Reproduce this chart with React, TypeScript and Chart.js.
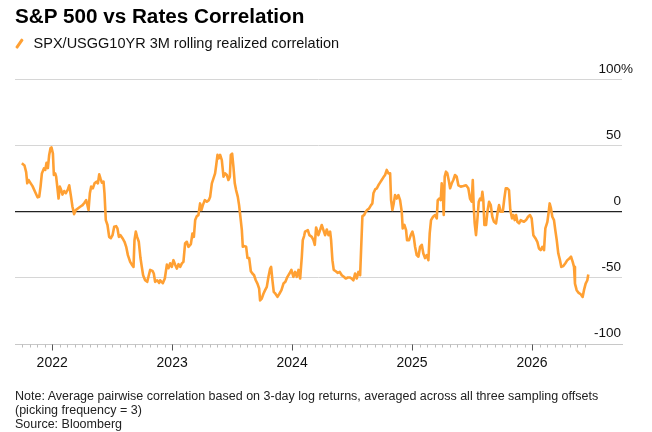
import { useEffect, useRef } from 'react';
import { Chart, registerables } from 'chart.js';

Chart.register(...registerables);

const title = 'S&P 500 vs Rates Correlation';
const seriesLabel = 'SPX/USGG10YR 3M rolling realized correlation';
const noteLines = [
  'Note: Average pairwise correlation based on 3-day log returns, averaged across all three sampling offsets',
  '(picking frequency = 3)',
  'Source: Bloomberg',
];

// decimal-year dates
const dates = [
  2021.747, 2021.769, 2021.783, 2021.792, 2021.803, 2021.817, 2021.836, 2021.858, 2021.878, 2021.892,
  2021.903, 2021.914, 2021.931, 2021.942, 2021.953, 2021.964, 2021.975, 2021.986, 2021.994, 2022.006,
  2022.014, 2022.025, 2022.033, 2022.044, 2022.053, 2022.064, 2022.075, 2022.086, 2022.100, 2022.114,
  2022.131, 2022.142, 2022.156, 2022.169, 2022.183, 2022.197, 2022.214, 2022.233, 2022.253, 2022.269,
  2022.283, 2022.294, 2022.303, 2022.314, 2022.325, 2022.339, 2022.353, 2022.369, 2022.381, 2022.392,
  2022.403, 2022.414, 2022.428, 2022.436, 2022.447, 2022.461, 2022.475, 2022.489, 2022.503, 2022.517,
  2022.533, 2022.544, 2022.556, 2022.569, 2022.586, 2022.603, 2022.617, 2022.631, 2022.650, 2022.664,
  2022.678, 2022.686, 2022.697, 2022.708, 2022.722, 2022.736, 2022.747, 2022.758, 2022.775, 2022.792,
  2022.803, 2022.817, 2022.836, 2022.847, 2022.858, 2022.875, 2022.892, 2022.900, 2022.922, 2022.939,
  2022.956, 2022.969, 2022.983, 2022.997, 2023.011, 2023.025, 2023.039, 2023.053, 2023.067, 2023.081,
  2023.094, 2023.108, 2023.122, 2023.136, 2023.156, 2023.169, 2023.181, 2023.192, 2023.206, 2023.219,
  2023.233, 2023.244, 2023.256, 2023.272, 2023.289, 2023.306, 2023.317, 2023.331, 2023.344, 2023.358,
  2023.367, 2023.378, 2023.389, 2023.400, 2023.414, 2023.428, 2023.442, 2023.456, 2023.469, 2023.481,
  2023.489, 2023.500, 2023.511, 2023.522, 2023.533, 2023.547, 2023.558, 2023.569, 2023.581, 2023.589,
  2023.603, 2023.617, 2023.628, 2023.642, 2023.656, 2023.669, 2023.683, 2023.697, 2023.711, 2023.725,
  2023.733, 2023.747, 2023.761, 2023.775, 2023.789, 2023.803, 2023.817, 2023.825, 2023.836, 2023.847,
  2023.861, 2023.878, 2023.894, 2023.911, 2023.928, 2023.944, 2023.961, 2023.978, 2023.994, 2024.011,
  2024.025, 2024.039, 2024.053, 2024.067, 2024.081, 2024.089, 2024.100, 2024.108, 2024.131, 2024.144,
  2024.164, 2024.178, 2024.189, 2024.200, 2024.211, 2024.219, 2024.233, 2024.247, 2024.261, 2024.275,
  2024.289, 2024.303, 2024.317, 2024.325, 2024.336, 2024.347, 2024.364, 2024.381, 2024.397, 2024.414,
  2024.431, 2024.447, 2024.464, 2024.481, 2024.497, 2024.511, 2024.525, 2024.539, 2024.553, 2024.567,
  2024.575, 2024.586, 2024.600, 2024.614, 2024.625, 2024.642, 2024.658, 2024.669, 2024.678, 2024.692,
  2024.706, 2024.719, 2024.733, 2024.747, 2024.761, 2024.775, 2024.789, 2024.803, 2024.817, 2024.825,
  2024.836, 2024.847, 2024.858, 2024.872, 2024.886, 2024.900, 2024.914, 2024.922, 2024.936, 2024.950,
  2024.958, 2024.975, 2024.989, 2025.003, 2025.014, 2025.025, 2025.039, 2025.053, 2025.067, 2025.081,
  2025.094, 2025.108, 2025.122, 2025.136, 2025.147, 2025.158, 2025.175, 2025.192, 2025.206, 2025.214,
  2025.228, 2025.239, 2025.247, 2025.256, 2025.264, 2025.272, 2025.283, 2025.294, 2025.308, 2025.317,
  2025.331, 2025.344, 2025.358, 2025.372, 2025.386, 2025.406, 2025.428, 2025.450, 2025.469, 2025.483,
  2025.497, 2025.506, 2025.514, 2025.522, 2025.533, 2025.544, 2025.556, 2025.567, 2025.578, 2025.586,
  2025.594, 2025.603, 2025.617, 2025.628, 2025.642, 2025.656, 2025.669, 2025.683, 2025.700, 2025.714,
  2025.725, 2025.739, 2025.756, 2025.769, 2025.781, 2025.794, 2025.808, 2025.819, 2025.833, 2025.844,
  2025.856, 2025.867, 2025.878, 2025.892, 2025.906, 2025.919, 2025.933, 2025.950, 2025.967, 2025.983,
  2025.997, 2026.011, 2026.028, 2026.044, 2026.058, 2026.072, 2026.086, 2026.100, 2026.111, 2026.128,
  2026.139, 2026.147, 2026.158, 2026.169, 2026.183, 2026.194, 2026.206, 2026.219, 2026.233, 2026.244,
  2026.261, 2026.278, 2026.294, 2026.311, 2026.325, 2026.339, 2026.350, 2026.358, 2026.372, 2026.389,
  2026.406, 2026.422, 2026.433, 2026.447, 2026.461, 2026.469,
];

// correlation, %
const correlation = [
  36.6, 35, 30, 21.5, 24, 22, 19.4, 15, 10.9, 11.4,
  19, 29, 32.8, 31.6, 37, 33, 43, 48, 48.7, 44,
  27.8, 29, 26.5, 17.7, 10, 19, 16.4, 13, 15.7, 14,
  17, 20, 12, 3.8, -1.8, 1.3, 2.5, 3.8, 5, 6.8,
  8.8, 5, 1.3, 14, 19, 17.7, 21.5, 22.7, 21.5, 28.3,
  25, 22, 22.7, 14, -6.3, -10, -19, -20, -17.7, -11.4,
  -10.9, -12.6, -19, -17.7, -20, -22.7, -26.5, -32.8, -37.9, -40,
  -41.7, -21.5, -15, -19, -22.7, -35, -41.7, -48, -51.8, -53,
  -49, -44, -44.7, -46.7, -53, -51.8, -53.8, -51.8, -54, -50.5,
  -40, -42.7, -39, -41.7, -36.6, -40, -43, -39.6, -41.7, -39,
  -37.9, -24, -22.7, -26.5, -24.5, -16.4, -19, -6.3, -3.3, -2.5,
  6.3, 1.3, 5, 8.8, 7.6, 8.8, 11.4, 21.5, 25, 29,
  35, 43, 40.4, 43, 39, 26.5, 29, 27.8, 24, 26.5,
  43, 44, 34, 21.5, 16.4, 11.4, 5, -3.8, -13.9, -26.5,
  -26, -26.5, -35, -35, -45, -46.7, -48, -51.8, -54.3, -58,
  -67, -65.6, -62, -59.3, -56.8, -49.2, -43, -41.7, -51.8, -60.6,
  -62, -64.4, -62, -59.3, -54.3, -53, -49.2, -46.7, -44, -49.2,
  -45.5, -49.2, -44, -50.5, -34, -21.5, -18.4, -15, -13.9, -17.7,
  -19, -21.5, -25, -11.9, -15, -17.7, -13.9, -10, -13.9, -17.7,
  -13.4, -17.7, -15, -21.5, -36.6, -44, -45, -46.2, -45.5, -48,
  -49.2, -50.5, -49.7, -49.7, -50.5, -51.8, -46.7, -50.5, -45.5, -48,
  -29, -3.3, -2.5, 0, 1.3, 2.5, 5, 6.3, 13.9, 16.9,
  17.7, 20, 22, 24, 26, 27.8, 31.6, 29, 29, 8.8,
  1.3, 6.3, 12.6, 10, 12.6, 8.8, 0, -12.6, -10, -13.9,
  -21.5, -21.5, -17.7, -15, -19, -26.5, -32.8, -34, -26.5, -25,
  -31.6, -35, -32.8, -36.6, -16.4, -6.3, -3.8, -2.5, -5, 8.8,
  10, 8.8, 21.5, 13.9, -2.5, 26.5, 30.3, 29, 22.7, 17.7,
  21.5, 24, 27.8, 26.5, 20, 19, 19.4, 20, 17.7, 10,
  7.6, 24, 3.8, -8.8, -17.7, -6.3, 7.6, 10, 8.8, 15,
  8.8, -10, -10, 0, 7.6, 5, -3.8, -7.6, -8.8, 0,
  5, 0, 0, 10, 17.7, 17.7, 16.4, 1.3, -5, -2.5,
  -6.3, -2.5, -7.6, -8.8, -6.3, -7, -7.6, -6.3, -3.8, -2.5,
  -5, -17.7, -20, -22.7, -27.8, -29, -26.5, -29, -12.6, -7.6,
  0, 6.3, 2.5, -3.8, -6.3, -13.9, -21.5, -31.6, -36.6, -41.7,
  -41, -38.9, -36.6, -35.4, -34, -37.9, -41.7, -54.3, -59.3, -61.4,
  -62.4, -64.4, -59.3, -54.3, -51.8, -47.5,
];

const yTickValues = [-100, -50, 0, 50, 100];
const yearLabels = [2022, 2023, 2024, 2025, 2026];
const xMin = 2021.69;
const xMax = 2026.75;
const minorTicksPerYear = 16;

const ORANGE = '#FFA033';
const FONT = '"Liberation Sans", Arial, Helvetica, sans-serif';

const axisDecorPlugin = {
  id: 'axisDecor',
  afterDraw(chart: any) {
    const { ctx, chartArea } = chart;
    const xs = chart.scales.x;
    const ys = chart.scales.y;
    ctx.save();
    // x tick marks
    const lastDate = dates[dates.length - 1];
    const y0 = Math.round(chartArea.bottom) + 0.5;
    for (let yr = Math.floor(xMin); yr <= Math.ceil(xMax); yr++) {
      for (let k = 0; k < minorTicksPerYear; k++) {
        const t = yr + k / minorTicksPerYear;
        if (t < xMin || t > lastDate) continue;
        const px = Math.round(xs.getPixelForValue(t)) + 0.5;
        const major = k === 0 && yearLabels.includes(yr);
        ctx.strokeStyle = major ? '#555' : '#bdbdbd';
        ctx.lineWidth = 1;
        ctx.beginPath();
        ctx.moveTo(px, y0);
        ctx.lineTo(px, y0 + (major ? 6 : 3));
        ctx.stroke();
      }
    }
    // y labels, right-aligned above gridlines
    ctx.font = `13.5px ${FONT}`;
    ctx.fillStyle = '#111';
    ctx.textBaseline = 'middle';
    const rx = chartArea.right - 1;
    yTickValues.forEach((v) => {
      const py = ys.getPixelForValue(v) - 10.5;
      ctx.textAlign = 'right';
      ctx.fillText(String(v), rx, py);
      if (v === 100) {
        ctx.textAlign = 'left';
        ctx.fillText('%', rx, py);
      }
    });
    ctx.restore();
  },
};

export default function App() {
  const canvasRef = useRef<HTMLCanvasElement | null>(null);

  useEffect(() => {
    if (!canvasRef.current) return;
    const chart = new Chart(canvasRef.current, {
      type: 'line',
      data: {
        datasets: [
          {
            label: seriesLabel,
            data: dates.map((d, i) => ({ x: d, y: correlation[i] })),
            borderColor: ORANGE,
            borderWidth: 2.6,
            pointRadius: 0,
            tension: 0,
            fill: false,
            borderJoinStyle: 'round',
          },
        ],
      },
      options: {
        animation: false,
        responsive: false,
        maintainAspectRatio: false,
        layout: { padding: { left: 15, right: 30, top: 79.5, bottom: 58 } },
        plugins: {
          legend: { display: false },
          title: { display: false },
          tooltip: { enabled: false },
        },
        scales: {
          x: {
            type: 'linear',
            min: xMin,
            max: xMax,
            grid: { display: false, drawTicks: false },
            border: { display: true, color: '#c8c8c8', width: 1 },
            ticks: {
              stepSize: 1,
              includeBounds: false,
              autoSkip: false,
              maxRotation: 0,
              padding: 11,
              color: '#111',
              font: { family: FONT, size: 14 },
              callback: (v: any) => (yearLabels.includes(Number(v)) ? String(v) : ''),
            },
            afterFit: (s: any) => {
              s.height = 30;
            },
          },
          y: {
            position: 'right',
            min: -100,
            max: 100,
            ticks: { stepSize: 50, display: false },
            grid: {
              drawTicks: false,
              color: (c: any) => (c.tick && c.tick.value === 0 ? '#222' : '#d6d6d6'),
              lineWidth: (c: any) => (c.tick && c.tick.value === 0 ? 1.2 : 1),
            },
            border: { display: false },
            afterFit: (s: any) => {
              s.width = 0;
            },
          },
        },
      },
      plugins: [axisDecorPlugin],
    } as any);
    return () => chart.destroy();
  }, []);

  return (
    <div
      style={{
        position: 'fixed',
        left: 0,
        top: 0,
        width: 652,
        height: 432,
        background: '#fff',
        fontFamily: FONT,
        color: '#111',
        overflow: 'hidden',
      }}
    >
      <canvas
        ref={canvasRef}
        width={652}
        height={432}
        style={{ position: 'absolute', left: 0, top: 0, width: 652, height: 432 }}
      />
      <div
        style={{
          position: 'absolute',
          left: 15,
          top: 4,
          fontSize: 20.7,
          fontWeight: 700,
          lineHeight: '24px',
          whiteSpace: 'nowrap',
          color: '#000',
        }}
      >
        {title}
      </div>
      <div
        style={{
          position: 'absolute',
          left: 15,
          top: 34,
          height: 18,
          display: 'flex',
          alignItems: 'center',
          whiteSpace: 'nowrap',
          fontSize: 14.5,
        }}
      >
        <span
          style={{
            display: 'inline-block',
            width: 2.6,
            height: 11,
            background: ORANGE,
            transform: 'rotate(35deg)',
            marginLeft: 3,
            marginRight: 13,
            borderRadius: 1,
          }}
        />
        <span>{seriesLabel}</span>
      </div>
      <div
        style={{
          position: 'absolute',
          left: 15,
          top: 389,
          fontSize: 12.5,
          lineHeight: '14px',
          whiteSpace: 'nowrap',
          color: '#222',
        }}
      >
        {noteLines.map((l, i) => (
          <div key={i}>{l}</div>
        ))}
      </div>
    </div>
  );
}
